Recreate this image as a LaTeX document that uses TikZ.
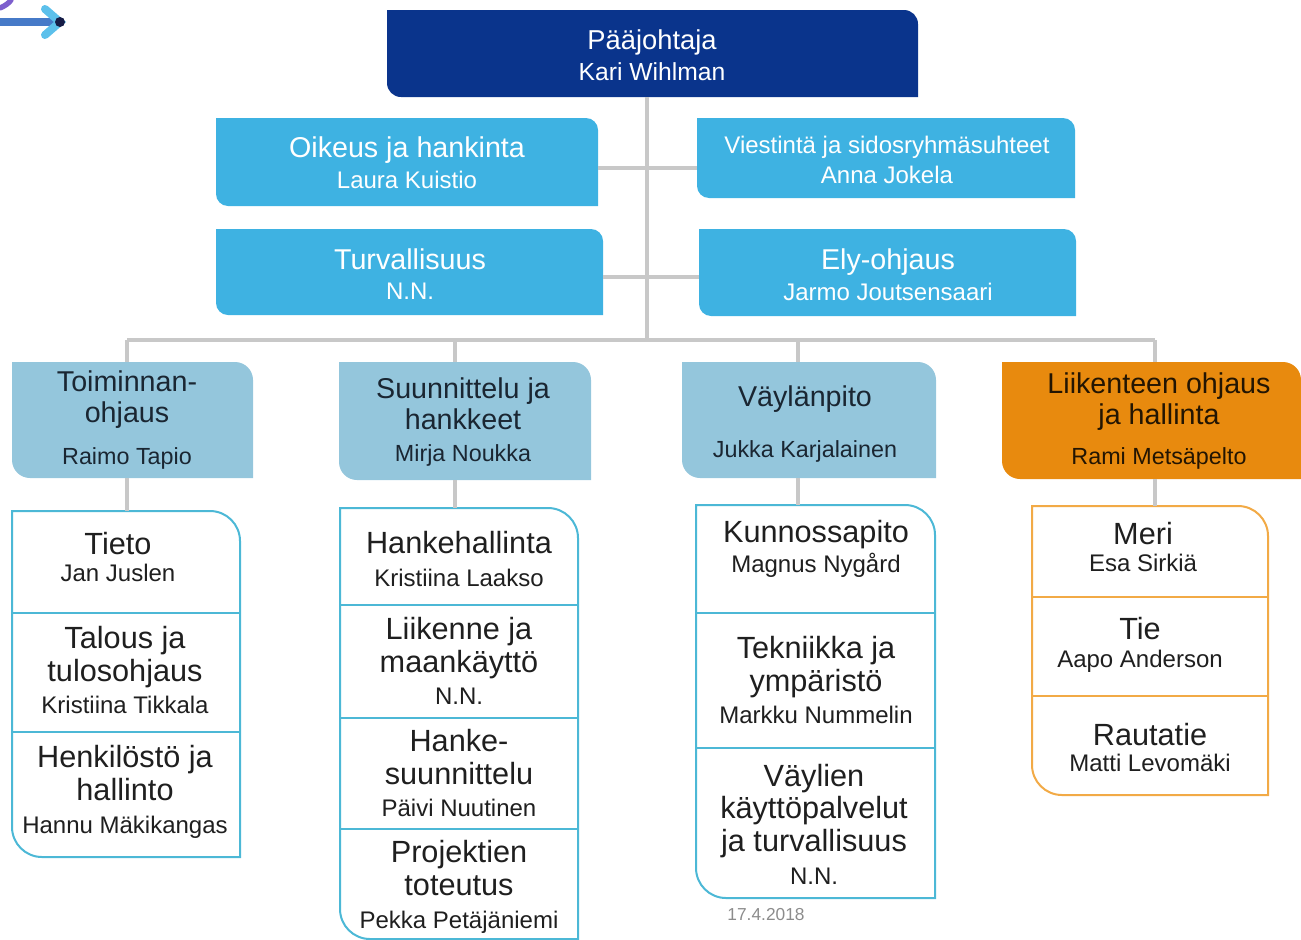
\documentclass[tikz,border=0pt]{standalone}
\usepackage{fontspec}
\setmainfont{Liberation Sans}
\usetikzlibrary{fit}

\definecolor{navy}{RGB}{10,52,140}
\definecolor{staffblue}{RGB}{62,178,226}
\definecolor{deptblue}{RGB}{148,198,220}
\definecolor{ohjorange}{RGB}{232,138,14}
\definecolor{grpblue}{RGB}{76,184,214}
\definecolor{grporange}{RGB}{242,170,70}
\definecolor{conngray}{RGB}{200,200,200}
\definecolor{darktxt}{RGB}{26,38,50}
\definecolor{logoblue}{RGB}{70,122,200}
\definecolor{logolight}{RGB}{92,192,235}
\definecolor{logodark}{RGB}{22,28,70}
\definecolor{logopurple}{RGB}{125,95,205}

\newcommand{\who}[1]{{\fontsize{18}{20}\selectfont #1}}

\tikzset{every picture/.style={line width=0.75pt}}
\tikzset{
  frame/.style={inner sep=0pt, outer sep=0pt},
  topbox/.style={fill=navy},
  staffbox/.style={fill=staffblue},
  deptbox/.style={fill=deptblue},
  ohjbox/.style={fill=ohjorange},
  grpbox/.style={draw=grpblue, line width=1.5pt, fill=white},
  grpboxo/.style={draw=grporange, line width=1.5pt, fill=white},
  conn/.style={draw=conngray, line width=3pt},
  whitetxt/.style={text=white, align=center, inner sep=0pt},
  depttxt/.style={text=darktxt, align=center, inner sep=0pt, font=\fontsize{21.5}{23.5}\selectfont},
  grptxt/.style={text=black!88, align=center, inner sep=0pt, font=\fontsize{23}{24.5}\selectfont}
}

\begin{document}
\begin{tikzpicture}[x=0.75pt,y=0.75pt,yscale=-1,xscale=1]
	\useasboundingbox (0,0) rectangle (1301,939);
	
	%Logo arrow
	\draw [logopurple, line width=4pt, line cap=round]  (0,8) .. controls (5,6) and (9,3) .. (11,0) ;
	\draw [logoblue, line width=6pt]  (0,22) -- (58,22) ;
	\draw [logolight, line width=6pt, line cap=round]  (45,9) -- (60,22) -- (45,35) ;
	\fill [logodark] (60,22) circle (5) ;
	
	%Shape: Paajohtaja
	\path [topbox]  (387,10) -- (904,10) arc(-90:0:14) -- (918,97) -- (401,97) arc(90:180:14) -- cycle ;
	\node [frame, fit={(387,10) (918,97)}] (paa) {};
	
	%Shape: staff boxes
	\path [staffbox]  (216,118) -- (586,118) arc(-90:0:12) -- (598,206) -- (228,206) arc(90:180:12) -- cycle ;
	\node [frame, fit={(216,118) (598,206)}] (oik) {};
	\path [staffbox]  (216,229) -- (591,229) arc(-90:0:12) -- (603,315) -- (228,315) arc(90:180:12) -- cycle ;
	\node [frame, fit={(216,229) (603,315)}] (turv) {};
	\path [staffbox]  (697,118) -- (1063,118) arc(-90:0:12) -- (1075,198) -- (709,198) arc(90:180:12) -- cycle ;
	\node [frame, fit={(697,118) (1075,198)}] (vies) {};
	\path [staffbox]  (699,229) -- (1064,229) arc(-90:0:12) -- (1076,316) -- (711,316) arc(90:180:12) -- cycle ;
	\node [frame, fit={(699,229) (1076,316)}] (ely) {};
	
	%Shape: department boxes
	\path [deptbox]  (12,362) -- (235,362) arc(-90:0:18) -- (253,478) -- (30,478) arc(90:180:18) -- cycle ;
	\node [frame, fit={(12,362) (253,478)}] (toim) {};
	\path [deptbox]  (339,362) -- (573,362) arc(-90:0:18) -- (591,480) -- (357,480) arc(90:180:18) -- cycle ;
	\node [frame, fit={(339,362) (591,480)}] (suun) {};
	\path [deptbox]  (682,362) -- (918,362) arc(-90:0:18) -- (936,478) -- (700,478) arc(90:180:18) -- cycle ;
	\node [frame, fit={(682,362) (936,478)}] (vayl) {};
	\path [ohjbox]  (1002,362) -- (1283,362) arc(-90:0:18) -- (1301,479) -- (1020,479) arc(90:180:18) -- cycle ;
	\node [frame, fit={(1002,362) (1301,479)}] (liik) {};
	
	%Shape: unit groups
	\path [grpbox]  (12,511) -- (210,511) arc(-90:0:30) -- (240,857) -- (42,857) arc(90:180:30) -- cycle ;
	\node [frame, fit={(12,511) (240,857)}] (g1) {};
	\draw [grpblue, line width=1.5pt]  (12,613) -- (240,613) (12,732) -- (240,732) ;
	\path [grpbox]  (340,508) -- (548,508) arc(-90:0:30) -- (578,939) -- (370,939) arc(90:180:30) -- cycle ;
	\node [frame, fit={(340,508) (578,939)}] (g2) {};
	\draw [grpblue, line width=1.5pt]  (340,605) -- (578,605) (340,718) -- (578,718) (340,829) -- (578,829) ;
	\path [grpbox]  (696,505) -- (905,505) arc(-90:0:30) -- (935,898) -- (726,898) arc(90:180:30) -- cycle ;
	\node [frame, fit={(696,505) (935,898)}] (g3) {};
	\draw [grpblue, line width=1.5pt]  (696,613) -- (935,613) (696,748) -- (935,748) ;
	\path [grpboxo]  (1032,506) -- (1238,506) arc(-90:0:30) -- (1268,795) -- (1062,795) arc(90:180:30) -- cycle ;
	\node [frame, fit={(1032,506) (1268,795)}] (g4) {};
	\draw [grporange, line width=1.5pt]  (1032,597) -- (1268,597) (1032,696) -- (1268,696) ;
	
	%Connectors
	\coordinate (trunk) at (647,340) ;
	\coordinate (j1) at (647,168) ;
	\coordinate (j2) at (647,277) ;
	\coordinate (d1) at (127,340) ;
	\coordinate (d2) at (455,340) ;
	\coordinate (d3) at (798,340) ;
	\coordinate (d4) at (1155,340) ;
	\draw [conn]  (paa.south -| trunk) -- (trunk) ;
	\draw [conn]  (oik.east |- j1) -- (vies.west |- j1) ;
	\draw [conn]  (turv.east |- j2) -- (ely.west |- j2) ;
	\draw [conn]  (d1) -- (d4) ;
	\draw [conn]  (d1) -- (toim.north -| d1) ;
	\draw [conn]  (d2) -- (suun.north -| d2) ;
	\draw [conn]  (d3) -- (vayl.north -| d3) ;
	\draw [conn]  (d4) -- (liik.north -| d4) ;
	\draw [conn]  (toim.south -| d1) -- (g1.north -| d1) ;
	\draw [conn]  (suun.south -| d2) -- (g2.north -| d2) ;
	\draw [conn]  (vayl.south -| d3) -- (g3.north -| d3) ;
	\draw [conn]  (liik.south -| d4) -- (g4.north -| d4) ;
	
	% Text Node
	\node [whitetxt, font=\fontsize{20.5}{23}\selectfont] (paa-t) at (652,55) {Pääjohtaja\\{\fontsize{18.5}{20}\selectfont Kari Wihlman}};
	% Text Node
	\node [whitetxt, font=\fontsize{21.5}{23}\selectfont] (oik-t) at (407,163) {Oikeus ja hankinta\\\who{Laura Kuistio}};
	% Text Node
	\node [whitetxt, font=\fontsize{21.5}{23}\selectfont] (turv-t) at (410,274) {Turvallisuus\\\who{N.N.}};
	% Text Node
	\node [whitetxt, font=\fontsize{18}{23}\selectfont] (vies-t) at (887,160) {Viestintä ja sidosryhmäsuhteet\\Anna Jokela};
	% Text Node
	\node [whitetxt, font=\fontsize{21.5}{23}\selectfont] (ely-t) at (888,275) {Ely-ohjaus\\\who{Jarmo Joutsensaari}};
	
	% Text Node
	\node [depttxt] (toim-t) at (127,420) {Toiminnan-\\ohjaus\\[8pt]{\fontsize{17.5}{20}\selectfont Raimo Tapio}};
	% Text Node
	\node [depttxt] (suun-t) at (463,422) {Suunnittelu ja\\hankkeet\\{\fontsize{17.5}{20}\selectfont Mirja Noukka}};
	% Text Node
	\node [depttxt] (vayl-t) at (805,424) {Väylänpito\\[15pt]{\fontsize{17.5}{20}\selectfont Jukka Karjalainen}};
	% Text Node
	\node [depttxt, text=black!85!ohjorange] (liik-t) at (1159,421) {Liikenteen ohjaus\\ja hallinta\\[6pt]{\fontsize{17.5}{20}\selectfont Rami Metsäpelto}};
	
	% Text Node
	\node [grptxt] (g1a) at (118,557) {Tieto\\[-4pt]\who{Jan Juslen}};
	% Text Node
	\node [grptxt] (g1b) at (125,670) {Talous ja\\tulosohjaus\\\who{Kristiina Tikkala}};
	% Text Node
	\node [grptxt] (g1c) at (125,792) {Henkilöstö ja\\hallinto\\\who{Hannu Mäkikangas}};
	% Text Node
	\node [grptxt] (g2a) at (459,559) {Hankehallinta\\\who{Kristiina Laakso}};
	% Text Node
	\node [grptxt] (g2b) at (459,661) {Liikenne ja\\maankäyttö\\\who{N.N.}};
	% Text Node
	\node [grptxt] (g2c) at (459,773) {Hanke-\\suunnittelu\\\who{Päivi Nuutinen}};
	% Text Node
	\node [grptxt] (g2d) at (459,887) {Projektien\\toteutus\\\who{Pekka Petäjäniemi}};
	% Text Node
	\node [grptxt] (g3a) at (816,549) {Kunnossapito\\[-2pt]\who{Magnus Nygård}};
	% Text Node
	\node [grptxt] (g3b) at (816,680) {Tekniikka ja\\ympäristö\\\who{Markku Nummelin}};
	% Text Node
	\node [grptxt] (g3c) at (814,824) {Väylien\\käyttöpalvelut\\ja turvallisuus\\\who{N.N.}};
	% Text Node
	\node [grptxt] (g4a) at (1143,547) {Meri\\[-4pt]\who{Esa Sirkiä}};
	% Text Node
	\node [grptxt] (g4b) at (1140,645) {Tie\\[-4pt]\who{Aapo Anderson}};
	% Text Node
	\node [grptxt] (g4c) at (1150,747) {Rautatie\\[-5pt]\who{Matti Levomäki}};
	
	% Text Node
	\node [inner sep=0pt, text=black!45, font=\fontsize{13}{15}\selectfont] (date) at (766,915) {17.4.2018};
	
\end{tikzpicture}
\end{document}
